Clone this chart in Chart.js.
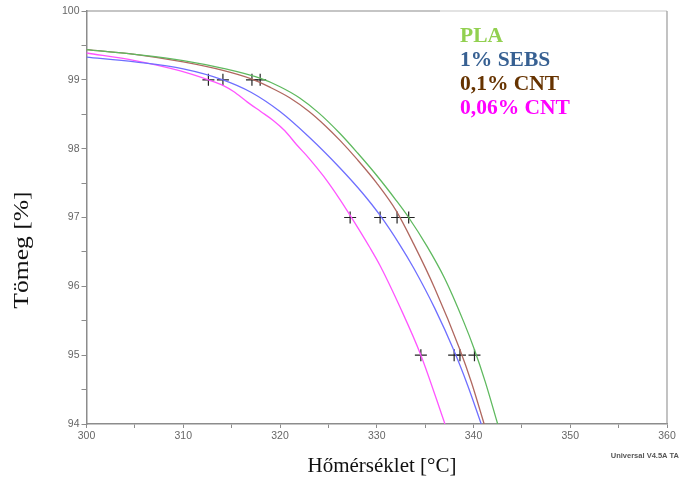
<!DOCTYPE html>
<html>
<head>
<meta charset="utf-8">
<script src="https://cdn.jsdelivr.net/npm/chart.js@4/dist/chart.umd.min.js"></script>
<style>
  html, body { margin: 0; padding: 0; background: #fff; }
  #wrap { width: 680px; height: 477px; position: relative; }
</style>
</head>
<body>
<div id="wrap"><canvas id="tgChart"></canvas></div>
<script>
/* ── Data ───────────────────────────────────────────────────── */
const plaTemp    = [300, 305, 310, 314, 318, 320, 322, 324, 326.2, 328, 330, 332, 333.3, 335.2, 337, 339, 340.1, 341.2, 342.5];
const plaMass    = [99.44, 99.37, 99.28, 99.17, 99.02, 98.9, 98.74, 98.52, 98.22, 97.94, 97.61, 97.25, 97.0, 96.58, 96.12, 95.48, 95.08, 94.62, 94.0];

const sebsTemp   = [300, 305, 310, 314.1, 317, 320, 323, 326.2, 328.5, 330.35, 332.4, 333.8, 336, 338, 339.4, 340.8];
const sebsMass   = [99.33, 99.26, 99.16, 99.0, 98.82, 98.54, 98.17, 97.72, 97.36, 97.03, 96.6, 96.27, 95.68, 95.06, 94.56, 94.0];

const cnt01Temp  = [300, 305, 310, 314, 317.1, 319, 321, 323, 324.7, 326.2, 328, 330, 332, 333.8, 336, 338.6, 339.8, 341.1];
const cnt01Mass  = [99.44, 99.37, 99.26, 99.14, 99.01, 98.89, 98.74, 98.54, 98.33, 98.12, 97.84, 97.5, 97.1, 96.62, 95.97, 95.08, 94.6, 94.0];

const cnt006Temp = [300, 305, 309.7, 312.6, 314.1, 315.2, 316.6, 318, 319.3, 320.5, 321.7, 323, 324.5, 326.2, 327.25, 329.3, 330.35, 332.4, 334.56, 337.05];
const cnt006Mass = [99.39, 99.28, 99.13, 99.0, 98.92, 98.83, 98.68, 98.54, 98.41, 98.26, 98.06, 97.86, 97.6, 97.26, 97.03, 96.56, 96.3, 95.7, 95.0, 94.0];

/* "+" markers at 99 / 97 / 95 % mass */
const markLevels   = [99, 97, 95];
const plaMarks     = [317.95, 333.3, 340.1];
const sebsMarks    = [314.1, 330.35, 338.0];
const cnt01Marks   = [317.1, 332.1, 338.6];
const cnt006Marks  = [312.6, 327.25, 334.56];

const legendNames  = ['PLA', '1% SEBS', '0,1% CNT', '0,06% CNT'];
const legendColors = ['#92d050', '#376092', '#663300', '#ff00ff'];

/* ── Helpers ────────────────────────────────────────────────── */
const pts = (xs, ys) => xs.map((x, i) => ({ x: x, y: ys[i] }));

function curve(label, xs, ys, color) {
  return {
    label: label,
    data: pts(xs, ys),
    borderColor: color,
    borderWidth: 1.3,
    pointRadius: 0,
    cubicInterpolationMode: 'monotone',
    fill: false
  };
}

const allMarks = [].concat(
  pts(plaMarks, markLevels), pts(sebsMarks, markLevels),
  pts(cnt01Marks, markLevels), pts(cnt006Marks, markLevels)
);

/* ── Extra drawing: frame, titles, legend text ─────────────── */
const decor = {
  id: 'decor',
  afterDraw(chart) {
    const { ctx, chartArea: a } = chart;
    ctx.save();
    // top + right frame
    ctx.lineWidth = 1.2;
    ctx.strokeStyle = '#8c8c8c';
    ctx.beginPath(); ctx.moveTo(a.left, a.top); ctx.lineTo(440, a.top); ctx.stroke();
    ctx.strokeStyle = '#c8c8c8';
    ctx.beginPath(); ctx.moveTo(440, a.top); ctx.lineTo(a.right, a.top); ctx.stroke();
    ctx.strokeStyle = '#9a9a9a';
    ctx.beginPath(); ctx.moveTo(a.right, a.top); ctx.lineTo(a.right, a.bottom); ctx.stroke();

    // legend text
    ctx.font = 'bold 21.5px "Liberation Serif", "DejaVu Serif", serif';
    ctx.textAlign = 'left';
    ctx.textBaseline = 'alphabetic';
    legendNames.forEach((n, i) => {
      ctx.fillStyle = legendColors[i];
      ctx.fillText(n, 460, 41.5 + i * 24.3);
    });

    // x title
    ctx.fillStyle = '#111';
    ctx.font = '21px "Liberation Serif", serif';
    ctx.textAlign = 'center';
    ctx.textBaseline = 'middle';
    ctx.fillText('Hőmérséklet [°C]', 382, 466);

    // y title (stretched a little, like the original)
    ctx.save();
    ctx.translate(23, 250);
    ctx.rotate(-Math.PI / 2);
    ctx.scale(1.28, 1);
    ctx.font = '20px "Liberation Serif", serif';
    ctx.fillText('Tömeg [%]', 0, 0);
    ctx.restore();

    // software stamp
    ctx.fillStyle = '#555';
    ctx.font = 'bold 7.5px "Liberation Sans", Arial, sans-serif';
    ctx.textAlign = 'right';
    ctx.textBaseline = 'alphabetic';
    ctx.fillText('Universal V4.5A TA', 679, 458);
    ctx.restore();
  }
};

/* ── Chart ──────────────────────────────────────────────────── */
const tickFont = { family: '"Liberation Sans", Arial, sans-serif', size: 10.5 };

new Chart(document.getElementById('tgChart').getContext('2d'), {
  type: 'line',
  data: {
    datasets: [
      curve('PLA', plaTemp, plaMass, '#5fb95f'),
      curve('0,1% CNT', cnt01Temp, cnt01Mass, '#b06860'),
      curve('1% SEBS', sebsTemp, sebsMass, '#6f6fff'),
      curve('0,06% CNT', cnt006Temp, cnt006Mass, '#ff55ff'),
      {
        type: 'scatter',
        label: 'marks',
        data: allMarks,
        pointStyle: 'cross',
        pointRadius: 6,
        borderColor: '#222',
        borderWidth: 1.2,
        showLine: false
      }
    ]
  },
  options: {
    responsive: true,
    maintainAspectRatio: false,
    animation: false,
    layout: { padding: { left: 0, right: 13, top: 11, bottom: 0 } },
    plugins: {
      legend: { display: false },
      tooltip: { enabled: false }
    },
    scales: {
      x: {
        type: 'linear',
        min: 300, max: 360,
        afterFit: s => { s.height = 53; },
        border: { display: true, color: '#8c8c8c', width: 1.5 },
        grid: { drawOnChartArea: false, drawTicks: true, tickLength: 4, color: '#8c8c8c' },
        ticks: {
          stepSize: 5, autoSkip: false, maxRotation: 0, padding: 2,
          color: '#666', font: tickFont,
          callback: v => (v % 10 === 0 ? v : '')
        }
      },
      y: {
        min: 94, max: 100,
        afterFit: s => { s.width = 86.5; },
        border: { display: true, color: '#8c8c8c', width: 1.5 },
        grid: { drawOnChartArea: false, drawTicks: true, tickLength: 5, color: '#8c8c8c' },
        ticks: {
          stepSize: 0.5, autoSkip: false, padding: 2,
          color: '#666', font: tickFont,
          callback: v => (v % 1 === 0 ? v : '')
        }
      }
    }
  },
  plugins: [decor]
});
</script>
</body>
</html>
